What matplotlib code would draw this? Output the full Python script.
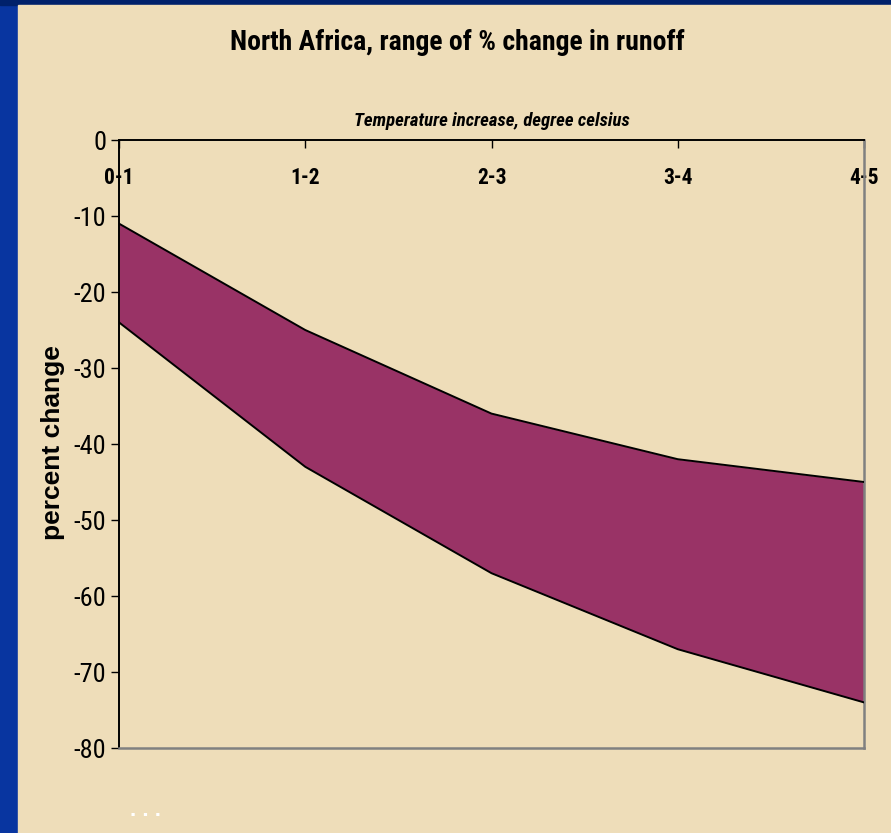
import matplotlib.pyplot as plt
from matplotlib.patches import Rectangle

# runoff change range (%) per temperature band
categories = ['0-1', '1-2', '2-3', '3-4', '4-5']
upper = [-11, -25, -36, -42, -45]
lower = [-24, -43, -57, -67, -74]
yticks = [0, -10, -20, -30, -40, -50, -60, -70, -80]

narrow = dict(family=['Roboto Condensed', 'DejaVu Sans'], fontstretch='condensed')
plain = ['Liberation Sans', 'DejaVu Sans']

fig = plt.figure(figsize=(8.91, 8.33), dpi=100, facecolor='#0835a0')
W, H = 891, 833

# slide background: dark band on top, parchment panel
fig.patches.append(Rectangle((0, 1 - 5 / H), 1, 5 / H, transform=fig.transFigure,
                             color='#00216b', zorder=0))
fig.patches.append(Rectangle((18 / W, 0), 1 - 18 / W, 1 - 5 / H, transform=fig.transFigure,
                             color='#eeddb9', zorder=0))

ax = fig.add_axes([119 / W, 1 - 748 / H, (864 - 119) / W, (748 - 140) / H])
ax.set_facecolor('none')
ax.set_zorder(2)

x = list(range(len(categories)))
ax.fill_between(x, lower, upper, color='#993366', linewidth=0, zorder=2)
ax.plot(x, upper, color='black', lw=1.4, zorder=3)
ax.plot(x, lower, color='black', lw=1.4, zorder=3)

ax.set_xlim(0, len(categories) - 1)
ax.set_ylim(-80, 0)

for side in ['top', 'left']:
    ax.spines[side].set_color('black')
    ax.spines[side].set_linewidth(1.4)
for side in ['bottom', 'right']:
    ax.spines[side].set_color('#808080')
    ax.spines[side].set_linewidth(1.8)

ax.set_xticks(x)
ax.set_xticklabels(categories, fontweight='bold', fontsize=15.5, **narrow)
ax.tick_params(axis='x', top=True, bottom=False, labeltop=True, labelbottom=False,
               direction='in', length=6, width=1, pad=-35)

ax.set_yticks(yticks)
ax.set_yticklabels([str(v) for v in yticks], fontsize=19, **narrow)
ax.tick_params(axis='y', direction='out', length=6, width=1, pad=3)

ax.annotate('Temperature increase, degree celsius', xy=(0.5, 1), xycoords='axes fraction',
            xytext=(0, 14), textcoords='offset points', ha='center', va='center',
            fontweight='bold', style='italic', fontsize=13.5, **narrow)

fig.text(457 / W, 1 - 43 / H, 'North Africa, range of % change in runoff',
         ha='center', va='center', fontweight='bold', fontsize=20, **narrow)
fig.text(53 / W, 1 - 443 / H, 'percent change', rotation=90, ha='center', va='center',
         family=plain, fontweight='bold', fontsize=19)
fig.text(145 / W, 1 - 810 / H, '. . .', ha='center', va='center', color='white',
         family=plain, fontweight='bold', fontsize=16)

fig.savefig('out.png', dpi=100, facecolor=fig.get_facecolor())
